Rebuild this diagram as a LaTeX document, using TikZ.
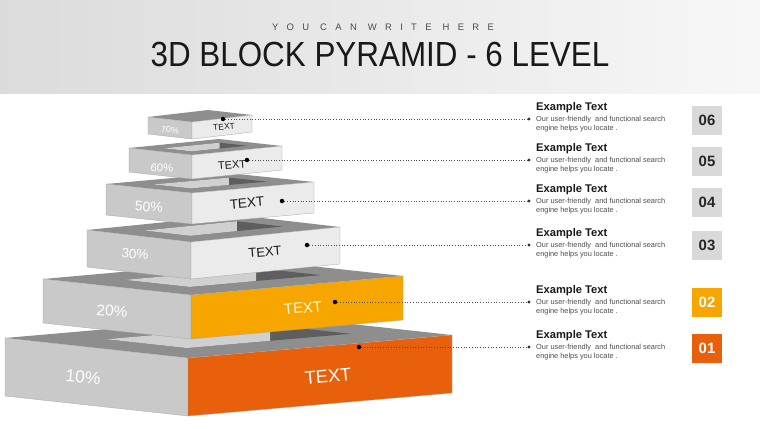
\documentclass[tikz,border=0pt]{standalone}
\usepackage{fontspec}
\setmainfont{Liberation Sans}
\newfontfamily\titlefont[FakeStretch=0.9]{Liberation Sans}
\newfontfamily\kickerfont[LetterSpace=88]{Liberation Sans}
\usetikzlibrary{calc}
\definecolor{topgray}{HTML}{8E8E8E}
\definecolor{sidegray}{HTML}{C9C9C9}
\definecolor{facelight}{HTML}{EBEBEB}
\definecolor{holedark}{HTML}{5E5E5E}
\definecolor{holelight}{HTML}{D0D0D0}
\definecolor{edgegray}{HTML}{A5A5A5}
\definecolor{amber}{HTML}{F7A600}
\definecolor{burnt}{HTML}{E8600C}
\definecolor{boxgray}{HTML}{D9D9D9}
\newcommand{\fs}[1]{\fontsize{#1}{#1}\selectfont}
% one ring of the pyramid: name, front corner, left end, right end, height, colour of right face
\newcommand{\pyrlevel}[6]{%
  \coordinate (#1c) at #2;
  \coordinate (#1l) at #3;
  \coordinate (#1r) at #4;
  \coordinate (#1b) at ($(#1l)+(#1r)-(#1c)$);
  \fill[topgray] (#1c) -- (#1l) -- (#1b) -- (#1r) -- cycle;
  \filldraw[sideface] (#1c) -- (#1l) -- ++(0,#5) -- ($(#1c)+(0,#5)$) -- cycle;
  \filldraw[frontface,fill=#6] (#1c) -- (#1r) -- ++(0,#5) -- ($(#1c)+(0,#5)$) -- cycle;
}
% opening in the top of a ring: name, depth
\newcommand{\pyrhole}[2]{%
  \coordinate (#1ic) at ($0.53*(#1c)+0.19*(#1r)+0.28*(#1l)$);
  \coordinate (#1il) at ($0.09*(#1c)+0.19*(#1r)+0.72*(#1l)$);
  \coordinate (#1ir) at ($0.81*(#1r)+0.28*(#1l)-0.09*(#1c)$);
  \coordinate (#1ib) at ($0.81*(#1r)+0.72*(#1l)-0.53*(#1c)$);
  \fill[holedark] (#1ic) -- (#1il) -- (#1ib) -- (#1ir) -- cycle;
  \begin{scope}
    \clip (#1ic) -- (#1il) -- (#1ib) -- (#1ir) -- cycle;
    \fill[holelight] (#1il) -- (#1ib) -- ++(0,#2) -- ($(#1il)+(0,#2)$) -- cycle;
  \end{scope}
}

\begin{document}
\begin{tikzpicture}[x=1bp,y=-1bp,
  sideface/.style={fill=sidegray, draw=edgegray, line width=0.3bp},
  frontface/.style={draw=edgegray, line width=0.3bp},
  pct/.style={text=white, rotate=-4, inner sep=0},
  lbl/.style={rotate=5, inner sep=0},
  dot/.style={circle, fill=black, inner sep=0, minimum size=4.5bp},
  enddot/.style={circle, fill=black!80, inner sep=0, minimum size=3.2bp},
  leader/.style={black!70, dotted, line width=0.7bp},
  head/.style={anchor=base west, inner sep=0, font=\bfseries\fs{11.2}, text=black!90},
  desc/.style={anchor=north west, inner sep=0, align=left, font=\fontsize{7.4}{9}\selectfont, text=black!70},
  numbox/.style={minimum width=30bp, minimum height=29bp, inner sep=0, font=\bfseries\fs{15}}]
\useasboundingbox (0,0) rectangle (760,428);
\fill[white] (0,0) rectangle (760,428);
\shade[left color=black!14, right color=black!3] (0,0) rectangle (760,93);
\node[font=\kickerfont\fs{9.5}, text=black!70] (kicker) at (383,27.5) {YOU CAN WRITE HERE};
\node[font=\titlefont\fs{35}, text=black!90] (title) at (380,54.5) {3D BLOCK PYRAMID - 6 LEVEL};

% pyramid, bottom ring first
\pyrlevel{p1}{(188,358)}{(5,338)}{(452,335)}{58}{burnt}
\pyrhole{p1}{58}
\pyrlevel{p2}{(191,295)}{(43,279)}{(403,276)}{44}{amber}
\pyrhole{p2}{44}
\pyrlevel{p3}{(191,242)}{(87,230)}{(340,227)}{37}{facelight}
\pyrhole{p3}{37}
\pyrlevel{p4}{(192,193)}{(106,184)}{(314,182)}{31}{facelight}
\pyrhole{p4}{31}
\pyrlevel{p5}{(192,155)}{(129,148)}{(282,146)}{24}{facelight}
\pyrhole{p5}{24}
\pyrlevel{p6}{(192,122)}{(148,117)}{(252,115)}{17}{facelight}

\node[pct, font=\fs{17.5}] (pct1) at (83,377) {10\%};
\node[pct, font=\fs{15.5}] (pct2) at (112,311) {20\%};
\node[pct, font=\fs{13.5}] (pct3) at (135,254) {30\%};
\node[pct, font=\fs{14}] (pct4) at (149,207) {50\%};
\node[pct, font=\fs{11.3}] (pct5) at (162,168) {60\%};
\node[pct, font=\fs{9}] (pct6) at (170,130) {70\%};

\node[lbl, font=\fs{18.3}, text=white] (txt1) at (328,376) {TEXT};
\node[lbl, font=\fs{15}, text=yellow!15] (txt2) at (303,308) {TEXT};
\node[lbl, font=\fs{13}, text=black!90] (txt3) at (265,252) {TEXT};
\node[lbl, font=\fs{13.5}, text=black!90] (txt4) at (247,203) {TEXT};
\node[lbl, font=\fs{11}, text=black!90] (txt5) at (232,165) {TEXT};
\node[lbl, font=\fs{8.5}, text=black!90] (txt6) at (224,127) {TEXT};

% leaders
\node[dot] (d1) at (359,347) {};
\node[dot] (d2) at (335,302) {};
\node[dot] (d3) at (307,245) {};
\node[dot] (d4) at (282,201) {};
\node[dot] (d5) at (247,160) {};
\node[dot] (d6) at (223,119) {};
\node[enddot] (e1) at (529,347) {};
\node[enddot] (e2) at (529,302) {};
\node[enddot] (e3) at (529,245) {};
\node[enddot] (e4) at (529,201) {};
\node[enddot] (e5) at (529,160) {};
\node[enddot] (e6) at (529,119) {};
\draw[leader] (d1) -- (e1);
\draw[leader] (d2) -- (e2);
\draw[leader] (d3) -- (e3);
\draw[leader] (d4) -- (e4);
\draw[leader] (d5) -- (e5);
\draw[leader] (d6) -- (e6);

% texts on the right
\node[head] (h6) at (536,110.5) {Example Text};
\node[head] (h5) at (536,151.5) {Example Text};
\node[head] (h4) at (536,192.5) {Example Text};
\node[head] (h3) at (536,236.5) {Example Text};
\node[head] (h2) at (536,293.5) {Example Text};
\node[head] (h1) at (536,338.5) {Example Text};
\node[desc] (t6) at (536,116.3) {Our user-friendly\ \ and functional search\\engine helps you locate .};
\node[desc] (t5) at (536,157.3) {Our user-friendly\ \ and functional search\\engine helps you locate .};
\node[desc] (t4) at (536,198.3) {Our user-friendly\ \ and functional search\\engine helps you locate .};
\node[desc] (t3) at (536,242.3) {Our user-friendly\ \ and functional search\\engine helps you locate .};
\node[desc] (t2) at (536,299.3) {Our user-friendly\ \ and functional search\\engine helps you locate .};
\node[desc] (t1) at (536,344.3) {Our user-friendly\ \ and functional search\\engine helps you locate .};

\node[numbox, fill=boxgray, text=black!85] (n6) at (707,120.5) {06};
\node[numbox, fill=boxgray, text=black!85] (n5) at (707,161) {05};
\node[numbox, fill=boxgray, text=black!85] (n4) at (707,202) {04};
\node[numbox, fill=boxgray, text=black!85] (n3) at (707,245) {03};
\node[numbox, fill=amber, text=white] (n2) at (707,302) {02};
\node[numbox, fill=burnt, text=white] (n1) at (707,348) {01};
\end{tikzpicture}
\end{document}
